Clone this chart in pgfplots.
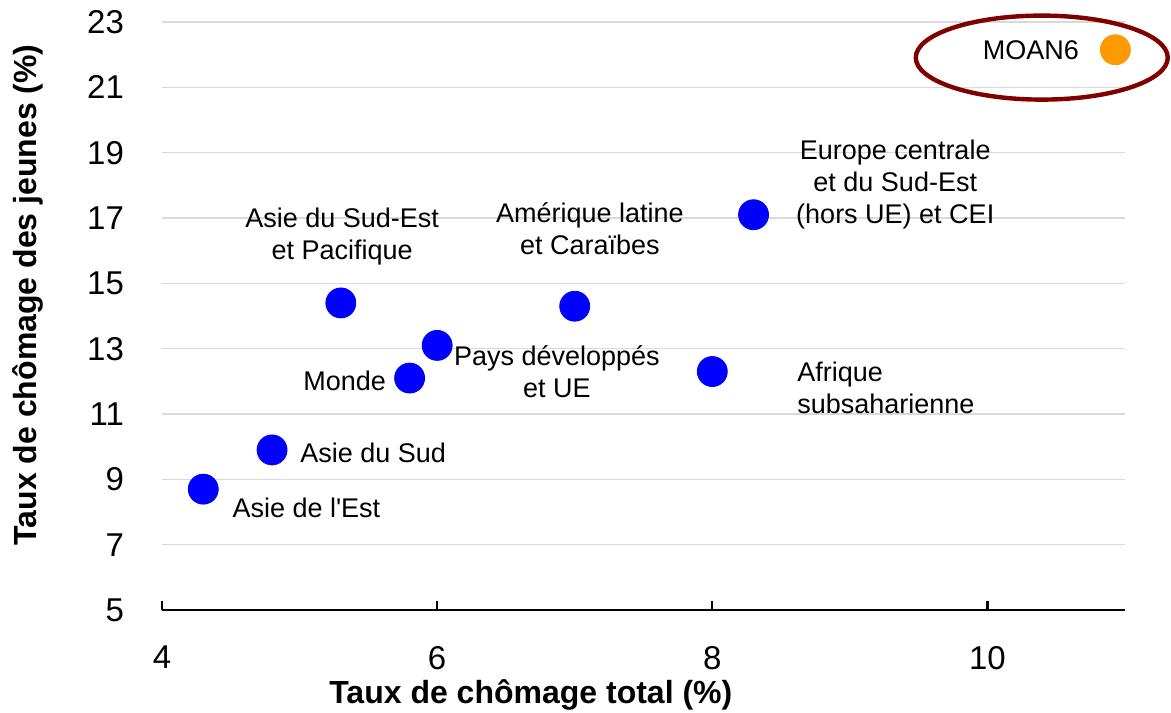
\documentclass[border=0pt]{standalone}
\usepackage{pgfplots}
\pgfplotsset{compat=1.18}
\usepackage{fontspec}
\setmainfont{Liberation Sans}
\definecolor{ptblue}{RGB}{0,0,255}
\definecolor{ptorange}{RGB}{255,153,0}
\definecolor{ovalred}{RGB}{128,0,0}
\definecolor{gridgray}{RGB}{217,217,217}
\tikzset{lbl/.style={font=\fontsize{13.5}{16}\selectfont, inner sep=0pt}}

\begin{document}
\begin{tikzpicture}
\begin{axis}[
  scale only axis, width=481.5pt, height=294pt,
  xmin=4, xmax=11, ymin=5, ymax=23,
  xtick={4,6,8,10}, ytick={5,7,...,23},
  axis x line*=bottom, axis y line*=left,
  y axis line style={draw=none},
  x axis line style={line width=1.3pt, -},
  ytick style={draw=none},
  xtick style={line width=1.2pt, black},
  tick align=inside, major tick length=4.5pt,
  ymajorgrids, grid style={gridgray, line width=0.8pt},
  ticklabel style={font=\fontsize{16.5}{18}\selectfont},
  /pgf/number format/assume math mode=true,
  xticklabel style={yshift=-14.5pt},
  yticklabel style={xshift=-15.5pt},
  xlabel={Taux de chômage total (\%)},
  ylabel={Taux de chômage des jeunes (\%)},
  label style={font=\fontsize{16}{19}\selectfont\bfseries},
  xlabel style={at={(axis description cs:0.383,-0.1446)}, anchor=center},
  ylabel style={at={(axis description cs:-0.139,0.536)}, anchor=center},
  clip=false,
]
% regions
\addplot[only marks, mark=*, mark size=7.5pt, mark options={draw=ptblue, fill=ptblue}]
coordinates{
  (4.3, 8.7)   % Asie de l'Est
  (4.8, 9.9)   % Asie du Sud
  (5.3, 14.4)  % Asie du Sud-Est et Pacifique
  (5.8, 12.1)  % Monde
  (6.0, 13.1)  % Pays developpes et UE
  (7.0, 14.3)  % Amerique latine
  (8.0, 12.3)  % Afrique subsaharienne
  (8.3, 17.1)  % Europe centrale
};
% MOAN6
\addplot[only marks, mark=*, mark size=7.5pt, mark options={draw=ptorange, fill=ptorange}]
coordinates{ (10.93, 22.15) };

\draw[ovalred, line width=2.2pt] (axis cs:10.395,21.91) ellipse [x radius=63pt, y radius=21pt];

\node[lbl, anchor=west] at (axis cs:5.003,9.81) {Asie du Sud};
\node[lbl, anchor=west] at (axis cs:4.51,8.12) {Asie de l\textquotesingle Est};
\node[lbl, align=center] at (axis cs:5.31,16.42) {Asie du Sud-Est\\et Pacifique};
\node[lbl, anchor=east] at (axis cs:5.63,12.01) {Monde};
\node[lbl, align=center] at (axis cs:6.87,12.29) {Pays développés\\et UE};
\node[lbl, align=center] at (axis cs:7.11,16.66) {Amérique latine\\et Caraïbes};
\node[lbl, align=left, anchor=west] at (axis cs:8.615,11.8) {Afrique\\subsaharienne};
\node[lbl, align=center] at (axis cs:9.33,18.04) {Europe centrale\\et du Sud-Est\\(hors UE) et CEI};
\node[lbl] at (axis cs:10.315,22.14) {MOAN6};

\coordinate (bbsw) at (rel axis cs:0,0);
\coordinate (bbne) at (rel axis cs:1,1);
\end{axis}
\pgfresetboundingbox
\path ([shift={(-81pt,-51pt)}]bbsw) rectangle ([shift={(23pt,11pt)}]bbne);
\end{tikzpicture}
\end{document}
